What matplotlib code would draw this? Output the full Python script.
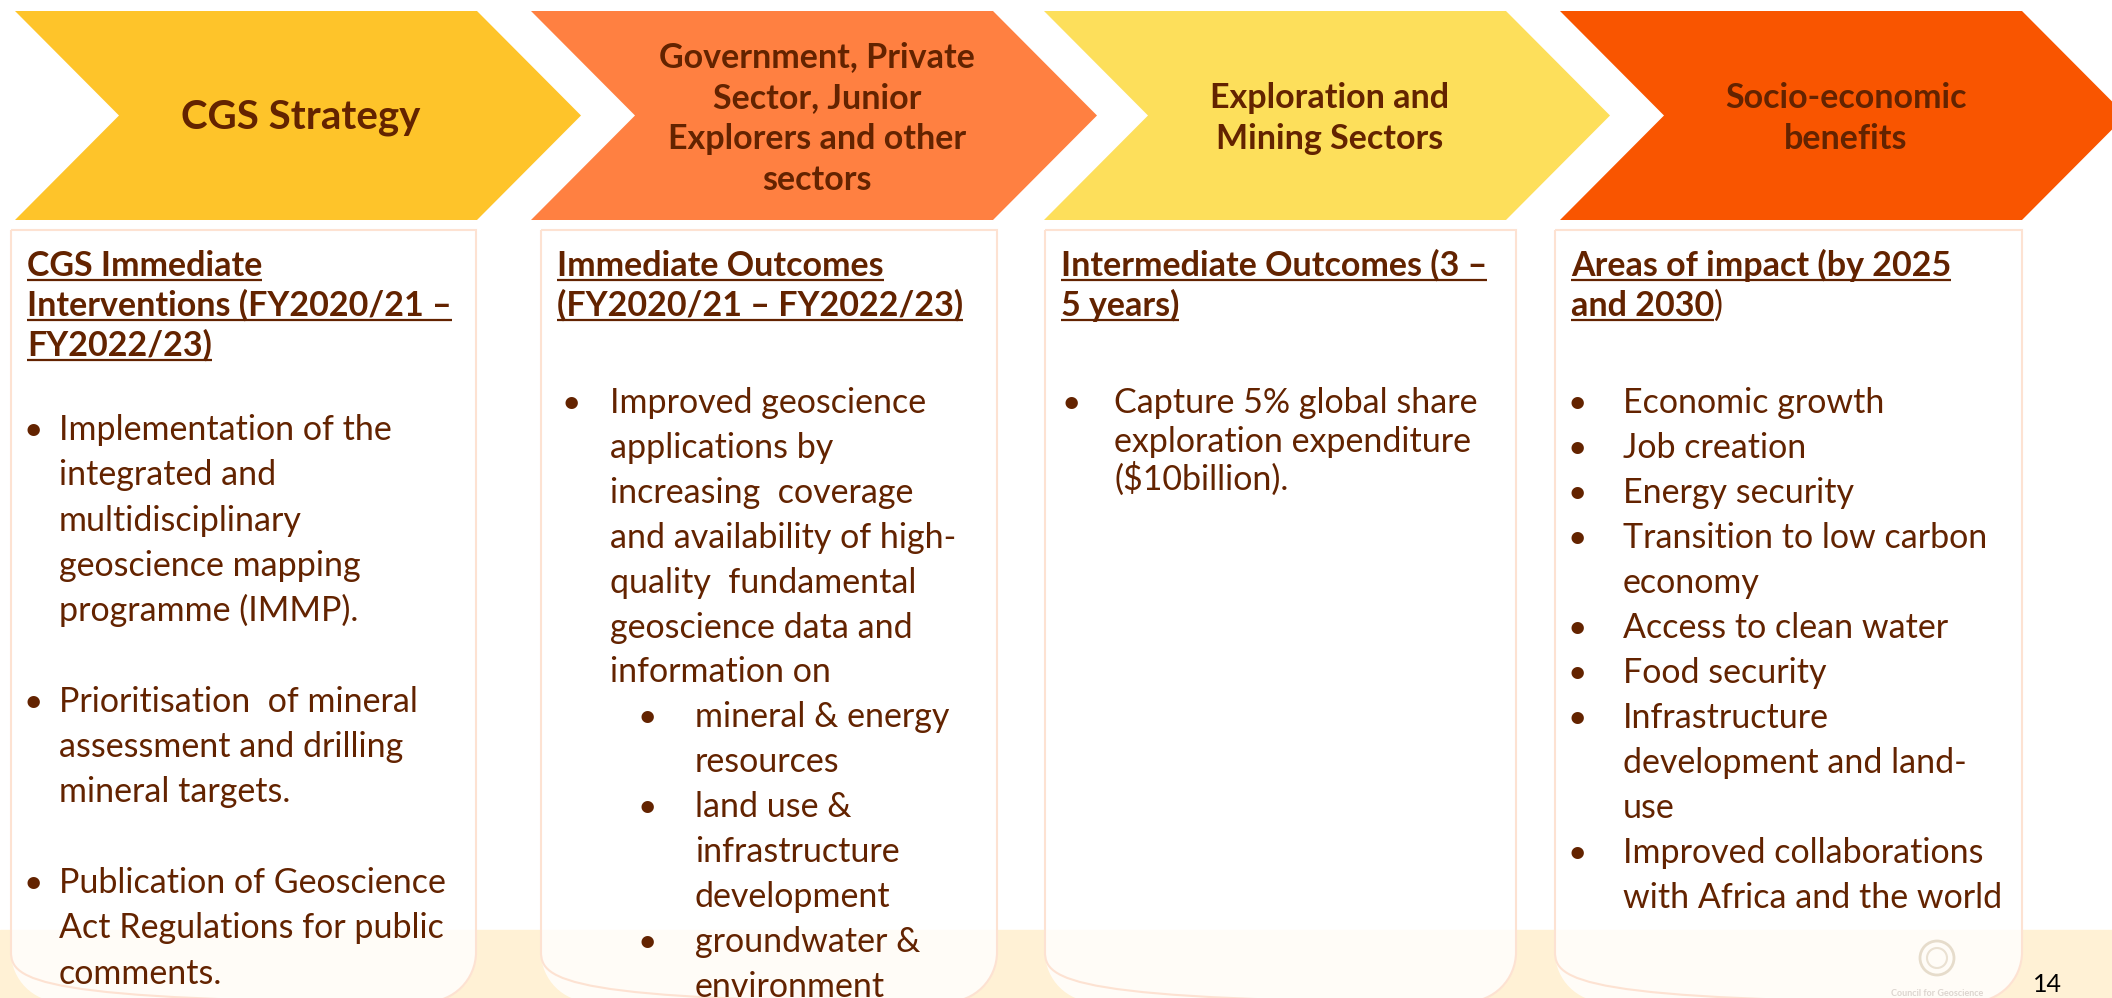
"""CGS strategy-to-impact slide: four chevrons over four outcome boxes."""
import matplotlib
matplotlib.use("Agg")
import matplotlib.pyplot as plt
from matplotlib.patches import Polygon, PathPatch, Circle, Rectangle
from matplotlib.path import Path

W, H = 2112, 998
BROWN = "#632300"
FONT = "Lato"

STAGE_TITLES = [
    ["CGS Strategy"],
    ["Government, Private", "Sector, Junior", "Explorers and other", "sectors"],
    ["Exploration and", "Mining Sectors"],
    ["Socio-economic", "benefits"],
]
STAGE_COLORS = ["#FEC42A", "#FF8041", "#FDDF5B", "#F95500"]

# "|" splits the underlined part of a header line from a plain tail
BOX_HEADERS = [
    ["CGS Immediate", "Interventions (FY2020/21 \u2013", "FY2022/23)"],
    ["Immediate Outcomes", "(FY2020/21 \u2013 FY2022/23)"],
    ["Intermediate Outcomes (3 \u2013", "5 years)"],
    ["Areas of impact (by 2025", "and 2030|)"],
]

BOX_BULLETS = [
    [(1, ["Implementation of the", "integrated and", "multidisciplinary",
          "geoscience mapping", "programme (IMMP)."]),
     (1, ["Prioritisation  of mineral", "assessment and drilling",
          "mineral targets."]),
     (1, ["Publication of Geoscience", "Act Regulations for public",
          "comments."])],
    [(1, ["Improved geoscience", "applications by", "increasing  coverage",
          "and availability of high-", "quality  fundamental",
          "geoscience data and", "information on"]),
     (2, ["mineral & energy", "resources"]),
     (2, ["land use &", "infrastructure", "development"]),
     (2, ["groundwater &", "environment"])],
    [(1, ["Capture 5% global share", "exploration expenditure",
          "($10billion)."])],
    [(1, ["Economic growth"]), (1, ["Job creation"]), (1, ["Energy security"]),
     (1, ["Transition to low carbon", "economy"]),
     (1, ["Access to clean water"]), (1, ["Food security"]),
     (1, ["Infrastructure", "development and land-", "use"]),
     (1, ["Improved collaborations", "with Africa and the world"])],
]

# layout
CHEV_X = [15, 531, 1044, 1560]
CHEV_W, CHEV_D, CHEV_TOP, CHEV_BOT = 566, 104, 11, 220
BOX_X = [11, 541, 1045, 1555]
BOX_W = [465, 456, 471, 467]
BOX_TOP, BOX_BOT, BOX_R = 230, 1002, 50
BODY_TOP = [428, 401, 401, 401]
BODY_STEP = [45.3, 44.9, 38.5, 45.0]
GAP_AFTER = [1, 0, 0, 0]
BULLET_DX = [22, 30, 26, 22]   # bullet centres
TEXT_DX = [48, 69, 69, 68]
SUB_BULLET_DX, SUB_TEXT_DX = 106, 154

fig = plt.figure(figsize=(W / 100, H / 100), dpi=100)
ax = fig.add_axes([0, 0, 1, 1])
ax.set_xlim(0, W)
ax.set_ylim(H, 0)
ax.axis("off")

# cream band along the bottom of the slide
ax.add_patch(Rectangle((0, 930), W, H - 930, color="#FFF1D5", zorder=0))

# chevrons
mid = (CHEV_TOP + CHEV_BOT) / 2
for x0, color, lines in zip(CHEV_X, STAGE_COLORS, STAGE_TITLES):
    pts = [(x0, CHEV_TOP), (x0 + CHEV_W - CHEV_D, CHEV_TOP), (x0 + CHEV_W, mid),
           (x0 + CHEV_W - CHEV_D, CHEV_BOT), (x0, CHEV_BOT), (x0 + CHEV_D, mid)]
    ax.add_patch(Polygon(pts, closed=True, facecolor=color, edgecolor="none", zorder=1))
    cx = x0 + CHEV_W / 2 + 3
    size = 29 if len(lines) == 1 else 24.5
    n = len(lines)
    for i, s in enumerate(lines):
        y = mid + (i - (n - 1) / 2) * 41
        ax.text(cx, y + 13, s, ha="center", va="baseline", fontsize=size,
                fontweight="bold", color=BROWN, family=FONT, zorder=3)


def box_path(x0, w):
    x1, y0, y1, r = x0 + w, BOX_TOP, BOX_BOT, BOX_R
    k = 0.5523 * r
    verts = [(x0, y0), (x1, y0), (x1, y1 - r),
             (x1, y1 - r + k), (x1 - r + k, y1), (x1 - r, y1),
             (x0 + r, y1),
             (x0 + r - k, y1), (x0, y1 - r + k), (x0, y1 - r),
             (x0, y0)]
    codes = [Path.MOVETO, Path.LINETO, Path.LINETO,
             Path.CURVE4, Path.CURVE4, Path.CURVE4,
             Path.LINETO,
             Path.CURVE4, Path.CURVE4, Path.CURVE4,
             Path.CLOSEPOLY]
    return Path(verts, codes)


renderer = fig.canvas.get_renderer()
inv = ax.transData.inverted()


def x_extent(t):
    bb = t.get_window_extent(renderer)
    (a, _), (b, _) = inv.transform([[bb.x0, bb.y0], [bb.x1, bb.y0]])
    return a, b


for b in range(4):
    x0 = BOX_X[b]
    ax.add_patch(PathPatch(box_path(x0, BOX_W[b]), facecolor="white", alpha=0.82,
                           edgecolor="none", zorder=1))
    ax.add_patch(PathPatch(box_path(x0, BOX_W[b]), facecolor="none",
                           edgecolor="#FDE2D2", lw=1.5, zorder=2))

    # underlined header
    for i, line in enumerate(BOX_HEADERS[b]):
        base = 265 + i * 40 + 11
        under, _, tail = line.partition("|")
        t = ax.text(x0 + 16, base, under, ha="left", va="baseline", fontsize=24.5,
                    fontweight="bold", color=BROWN, family=FONT, zorder=3)
        a, e = x_extent(t)
        ax.plot([x0 + 16, e], [base + 4, base + 4], color=BROWN, lw=1.6,
                solid_capstyle="butt", zorder=3)
        if tail:
            ax.text(e, base, tail, ha="left", va="baseline", fontsize=24.5,
                    color=BROWN, family=FONT, zorder=3)

    # bullet body
    row = 0
    for level, lines in BOX_BULLETS[b]:
        bx = x0 + (BULLET_DX[b] if level == 1 else SUB_BULLET_DX)
        tx = x0 + (TEXT_DX[b] if level == 1 else SUB_TEXT_DX)
        for j, s in enumerate(lines):
            base = BODY_TOP[b] + row * BODY_STEP[b] + 12
            if j == 0:
                ax.text(bx, base, "\u2022", ha="center", va="baseline", fontsize=24,
                        color=BROWN, family=FONT, zorder=3)
            ax.text(tx, base, s, ha="left", va="baseline", fontsize=24.5,
                    color=BROWN, family=FONT, zorder=3)
            row += 1
        row += GAP_AFTER[b]

# faded logo and page number
ax.add_patch(Circle((1937, 958), 17, facecolor="none", edgecolor="#E6DCCB", lw=2, zorder=3))
ax.add_patch(Circle((1937, 958), 10, facecolor="none", edgecolor="#EAE1D2", lw=1.5, zorder=3))
ax.text(1937, 994, "Council for Geoscience", ha="center", va="center", fontsize=6.5,
        fontweight="bold", color="#DCD5CF", family=FONT, zorder=3)
ax.text(2047, 984, "14", ha="center", va="center", fontsize=18, color="black",
        family=FONT, zorder=3)

fig.savefig("out.png", dpi=100)
